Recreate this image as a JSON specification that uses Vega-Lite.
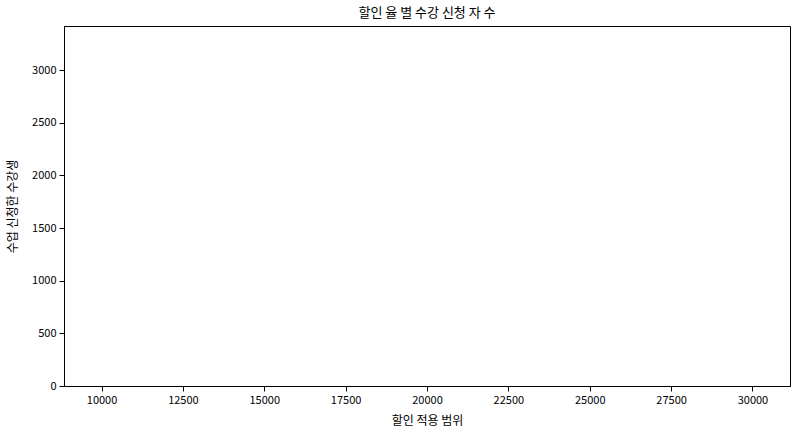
{
  "$schema": "https://vega.github.io/schema/vega-lite/v6.json",
  "width": 726,
  "height": 360,
  "autosize": {"type": "none"},
  "padding": {"left": 64, "top": 26, "right": 18, "bottom": 51},
  "background": "white",
  "title": {"text": "할인 율 별 수강 신청 자 수", "fontSize": 13, "fontWeight": "normal", "font": "Noto Sans CJK KR", "color": "black", "offset": 6},
  "data": {"values": [
    {"range": 10000, "count": 3255},
    {"range": 15000, "count": 2100},
    {"range": 20000, "count": 1500},
    {"range": 25000, "count": 900},
    {"range": 30000, "count": 500}
  ]},
  "mark": {"type": "bar", "size": 0.03, "color": "#1f77b4", "opacity": 0},
  "encoding": {
    "x": {"field": "range", "type": "quantitative", "title": "할인 적용 범위",
      "scale": {"domain": [9000, 31000], "nice": false, "zero": false},
      "axis": {"values": [10000, 12500, 15000, 17500, 20000, 22500, 25000, 27500, 30000], "format": "d"}},
    "y": {"field": "count", "type": "quantitative", "title": "수업 신청한 수강생",
      "scale": {"domain": [0, 3420], "nice": false},
      "axis": {"values": [0, 500, 1000, 1500, 2000, 2500, 3000], "format": "d"}}
  },
  "config": {
    "view": {"stroke": "black", "strokeWidth": 1},
    "axis": {
      "grid": false,
      "domainColor": "black",
      "tickColor": "black",
      "tickSize": 5,
      "labelFont": "Noto Sans CJK KR",
      "labelFontSize": 11,
      "labelColor": "black",
      "labelPadding": 3,
      "titleFont": "Noto Sans CJK KR",
      "titleFontSize": 12,
      "titleFontWeight": "normal",
      "titleColor": "black"
    },
    "axisY": {"titlePadding": 12},
    "axisX": {"titlePadding": 10}
  }
}
